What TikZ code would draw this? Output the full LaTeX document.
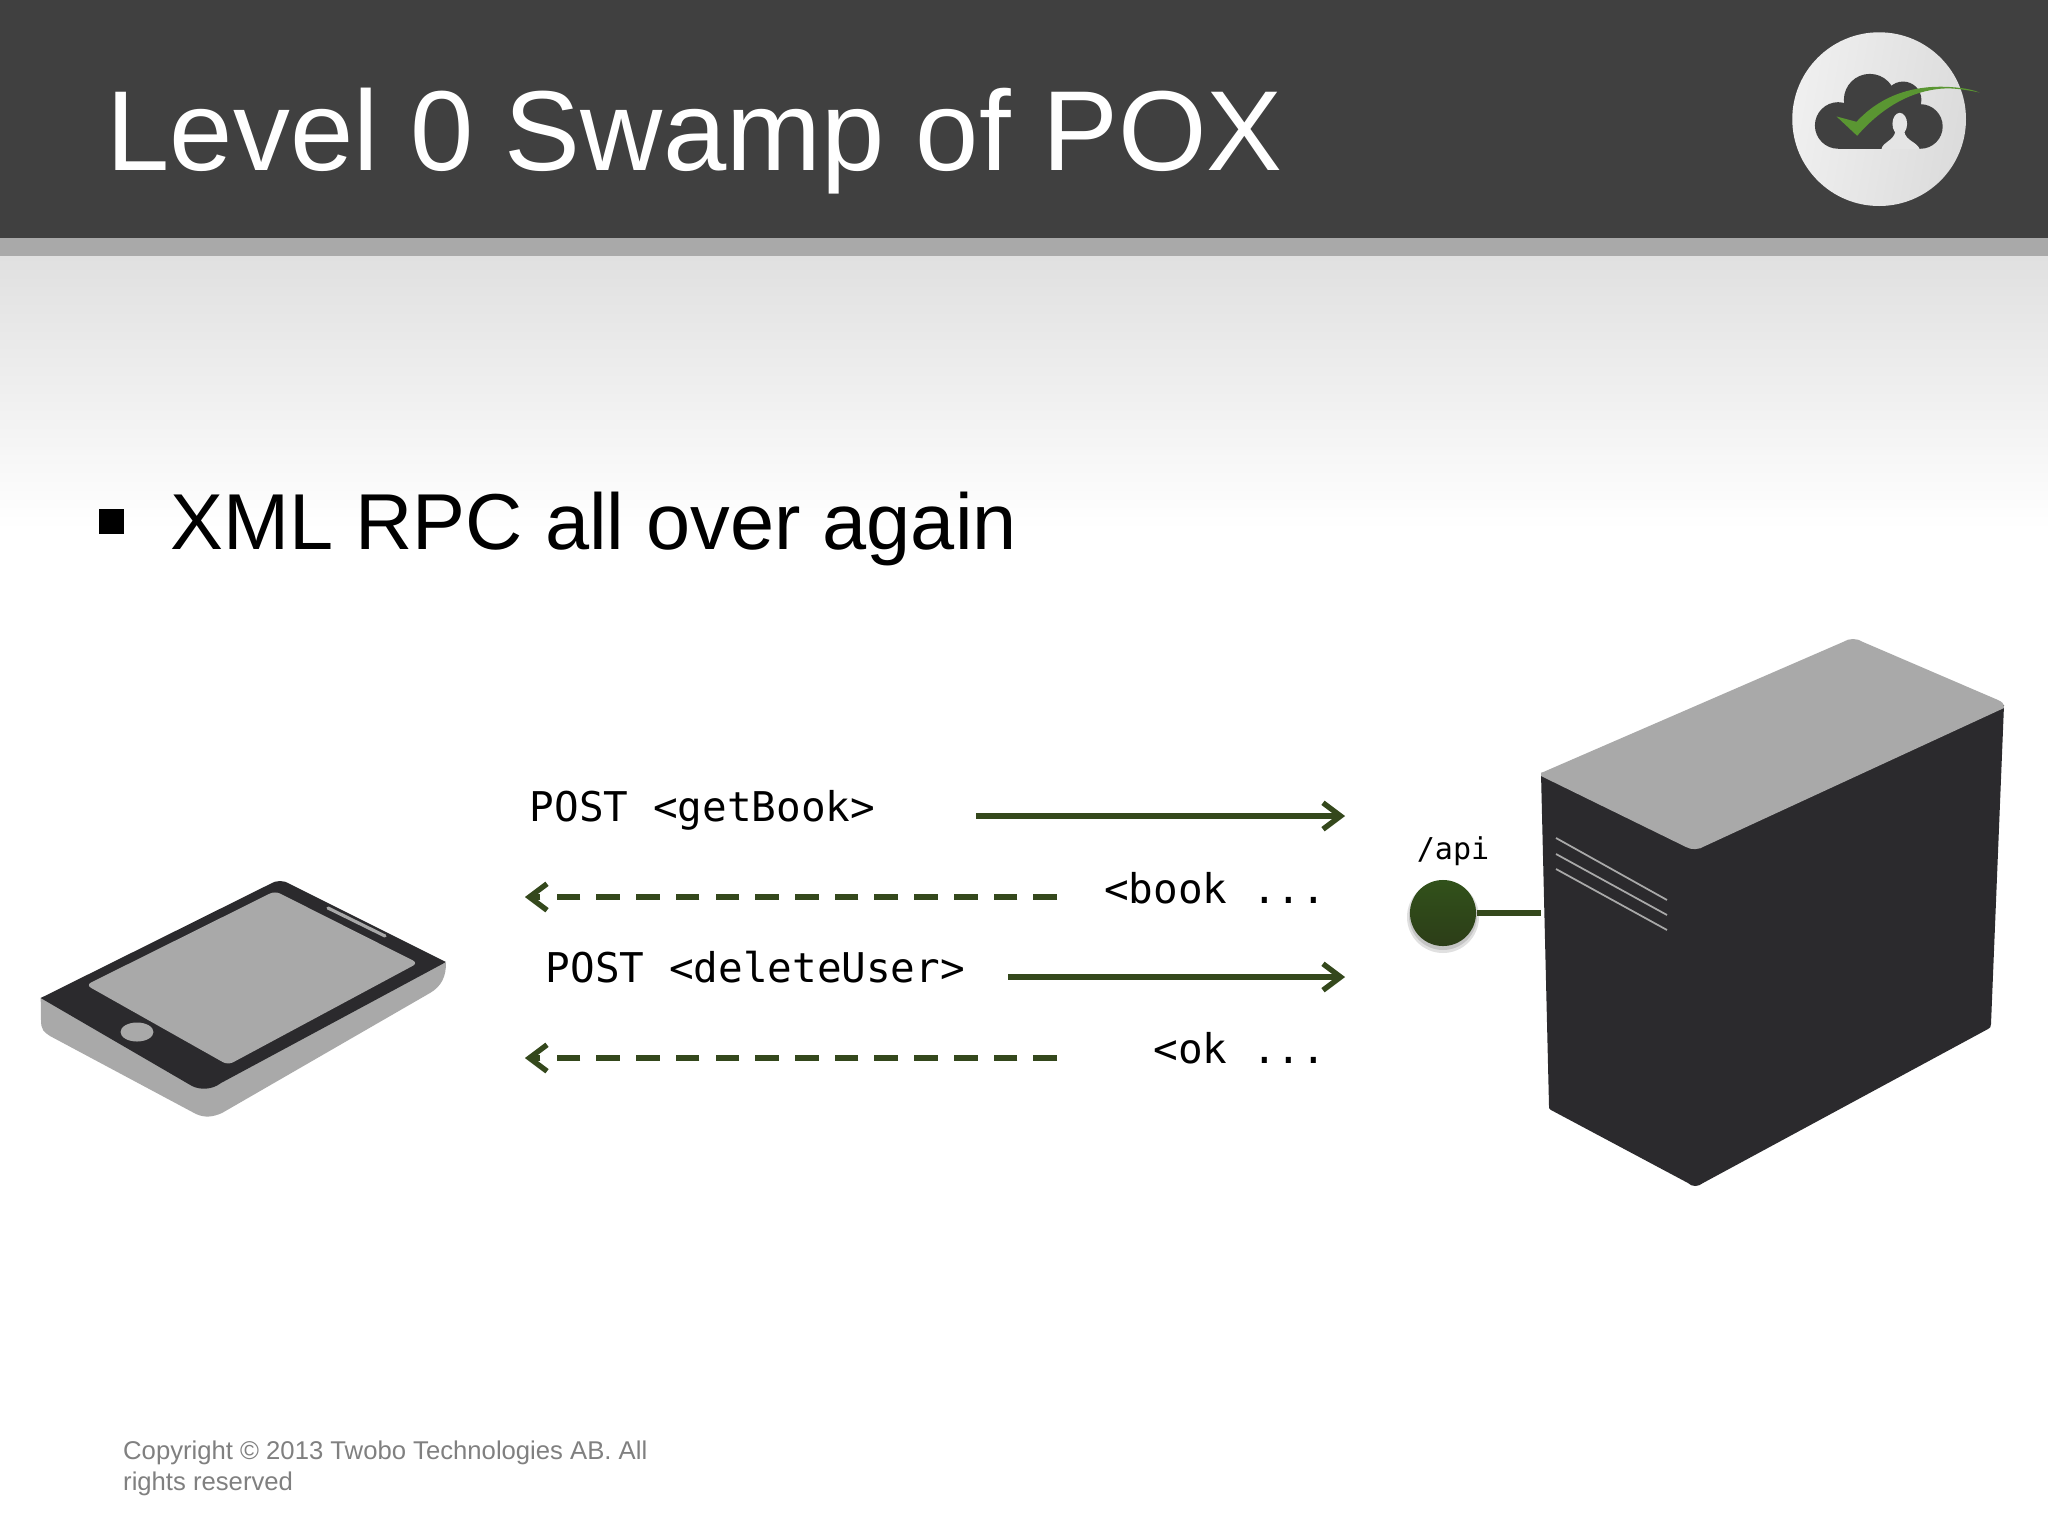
\documentclass[tikz,border=0pt]{standalone}
\usepackage{fontspec}
\setmainfont{Liberation Sans}
\setmonofont{DejaVu Sans Mono}
\usetikzlibrary{arrows.meta}
\definecolor{header}{HTML}{404040}
\definecolor{band}{HTML}{A9A9A9}
\definecolor{fade}{HTML}{E0E0E0}
\definecolor{dev}{HTML}{2B2A2D}
\definecolor{devlight}{HTML}{A9A9A9}
\definecolor{wire}{HTML}{34481C}
\definecolor{swoosh}{HTML}{5A9632}
\definecolor{foot}{HTML}{808080}
\tikzset{
  code/.style={inner sep=0pt,text=black,font=\ttfamily\fontsize{11.65}{14}\selectfont},
  codeL/.style={code,anchor=base west},
  codeR/.style={code,anchor=base east},
  reqline/.style={wire,line width=1.5pt,-{Straight Barb[length=5pt,width=7.5pt,line width=1.5pt]}},
  respline/.style={wire,line width=1.6pt,dash pattern=on 6.7pt off 4.6pt,-{Straight Barb[length=5pt,width=7.5pt,line width=1.5pt]}},
  vent/.style={draw=devlight,line width=.5pt}
}
\begin{document}
\begin{tikzpicture}[x=0.01cm,y=-0.01cm]
\useasboundingbox (0,0) rectangle (2048,1536);
\fill[white] (0,0) rectangle (2048,1536);
% header
\fill[top color=fade,bottom color=white] (0,256) rectangle (2048,530);
\fill[header] (0,0) rectangle (2048,238);
\fill[band] (0,238) rectangle (2048,256);
\node[anchor=base west,inner sep=0pt,text=white,font=\fontsize{32.35}{36}\selectfont] (title) at (106,170) {Level 0 Swamp of POX};
% logo
\begin{scope}[shift={(1750,0)},x=0.003333cm,y=-0.003333cm]
  \shade[shading=axis,left color=white!94!black,right color=black!14!white,shading angle=80] (388,358) circle[radius=261];
  \fill[header] (265,377) circle[radius=70];
  \fill[header] (360,300) circle[radius=78];
  \fill[header] (460,300) circle[radius=55];
  \fill[header] (512,380) circle[radius=67];
  \fill[header] (265,340) rectangle (512,447);
  \fill[black!10!white] (450,372) ellipse[x radius=22,y radius=33];
  \fill[black!10!white] (395,448) .. controls (400,425) and (430,425) .. (437,395) -- (463,395) .. controls (470,425) and (500,425) .. (510,448) -- cycle;
  \fill[swoosh] (260,350) -- (320,366) .. controls (390,290) and (490,250) .. (620,263) .. controls (650,266) and (670,270) .. (690,278) .. controls (640,268) and (600,262) .. (560,268) .. controls (470,280) and (390,330) .. (322,408) -- cycle;
\end{scope}
% bullet
\fill[black] (99,509) rectangle (124,534);
\node[anchor=base west,inner sep=0pt,text=black,font=\fontsize{22.55}{26}\selectfont] (bullet) at (170,549.5) {XML RPC all over again};
% tablet
\fill[devlight] (40.7,998) -- (41,1020) .. controls (41,1030) and (44,1032) .. (50,1036) -- (196,1114) .. controls (205,1118) and (213,1117) .. (222,1113) -- (430,993) .. controls (442,986) and (446,976) .. (446,963) -- cycle;
\fill[dev] (40.7,998) -- (270,884) .. controls (276,880) and (284,880) .. (290,884) -- (446,962) -- (221,1083) .. controls (212,1090) and (200,1090) .. (192,1086) -- cycle;
\fill[devlight,rounded corners=1.6pt] (86,985) -- (275,891) -- (418,963) -- (228,1065) -- cycle;
\draw[draw=devlight,line width=.9pt,line cap=round] (328,908) -- (385,936);
\fill[devlight] (137,1032) ellipse[x radius=16.5,y radius=9.5];
% server
\fill[dev] (1541,773) -- (2004,705) -- (1991,1024) .. controls (1991,1027) and (1990,1028) .. (1988,1029) -- (1703,1183) .. controls (1698,1187) and (1692,1187) .. (1688,1183) -- (1551,1110) .. controls (1549,1109) and (1549,1108) .. (1549,1106) -- cycle;
\fill[devlight] (1541,773) -- (1843,642) .. controls (1849,638) and (1857,638) .. (1863,642) -- (1998,700) .. controls (2002,702) and (2004,703) .. (2004,708) -- (1705,846) .. controls (1699,850) and (1691,850) .. (1686,847) -- (1541,776) -- cycle;
\draw[vent] (1556,838) -- (1667,900);
\draw[vent] (1556,854) -- (1667,915);
\draw[vent] (1556,869) -- (1667,930);
% api port
\fill[black,opacity=.12] (1443,917) circle[radius=36];
\fill[black,opacity=.12] (1443,916) circle[radius=34];
\node[circle,minimum size=0.66cm,inner sep=0pt,draw=none,top color=wire!95!green,bottom color=wire!85!black] (port) at (1443,913) {};
\coordinate (serverside) at (1541,913);
\draw[wire,line width=1.5pt,draw opacity=.2,yshift=-0.05cm] (port) -- (serverside);
\draw[wire,line width=1.5pt] (port) -- (serverside);
\node[code,font=\ttfamily\fontsize{8.55}{10}\selectfont,anchor=base] (api) at (1453,859) {/api};
% messages
\node[codeL] (m1) at (529,821.5) {POST <getBook>};
\node[codeR] (m2) at (1327,903.5) {<book ...};
\node[codeL] (m3) at (545,982.5) {POST <deleteUser>};
\node[codeR] (m4) at (1327,1063.5) {<ok ...};
\coordinate (a1s) at (976,816); \coordinate (a1e) at (1345,816);
\coordinate (a2s) at (1057,897); \coordinate (a2e) at (525,897);
\coordinate (a3s) at (1008,977); \coordinate (a3e) at (1345,977);
\coordinate (a4s) at (1057,1058); \coordinate (a4e) at (525,1058);
% arrow shadows
\begin{scope}[yshift=-0.075cm]
  \draw[reqline,draw opacity=.13] (a1s) -- (a1e);
  \draw[respline,draw opacity=.13] (a2s) -- (a2e);
  \draw[reqline,draw opacity=.13] (a3s) -- (a3e);
  \draw[respline,draw opacity=.13] (a4s) -- (a4e);
\end{scope}
\begin{scope}[yshift=-0.04cm]
  \draw[reqline,draw opacity=.2] (a1s) -- (a1e);
  \draw[respline,draw opacity=.2] (a2s) -- (a2e);
  \draw[reqline,draw opacity=.2] (a3s) -- (a3e);
  \draw[respline,draw opacity=.2] (a4s) -- (a4e);
\end{scope}
\draw[reqline] (a1s) -- (a1e);
\draw[respline] (a2s) -- (a2e);
\draw[reqline] (a3s) -- (a3e);
\draw[respline] (a4s) -- (a4e);
% footer
\node[anchor=north west,inner sep=0pt,text=foot,align=left,font=\fontsize{7.3}{8.8}\selectfont] (copy) at (122.5,1440) {Copyright © 2013 Twobo Technologies AB. All\\rights reserved};
\end{tikzpicture}
\end{document}
